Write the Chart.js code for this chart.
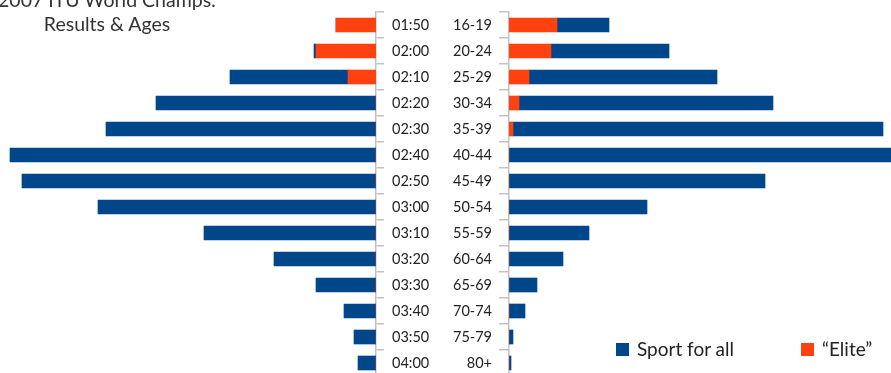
<!DOCTYPE html>
<html>
<head>
<meta charset="utf-8">
<script src="https://cdn.jsdelivr.net/npm/chart.js@4"></script>
<style>
  html, body { margin: 0; padding: 0; overflow: hidden; background: #fff; }
  body { width: 891px; height: 373px; position: relative; font-family: Lato, sans-serif; }
  #kiri { position: absolute; left: 0; top: 0; }
  #kanan { position: absolute; left: 440px; top: 0; }
  .judul { position: absolute; left: -20px; top: -12px; width: 254px; text-align: center; white-space: nowrap;
           font-size: 19.5px; line-height: 23.5px; color: #333; }
  .legenda { position: absolute; top: 337px; font-size: 19px; line-height: 24px; color: #222; white-space: nowrap; }
  .legenda span.kotak { position: absolute; left: -21px; top: 6px; width: 13px; height: 13px; }
</style>
</head>
<body>
<canvas id="kiri" width="440" height="376"></canvas>
<canvas id="kanan" width="451" height="376"></canvas>
<div class="judul">2007 ITU World Champs:<br>Results &amp; Ages</div>
<div class="legenda" style="left:637px"><span class="kotak" style="background:#00468a"></span>Sport for all</div>
<div class="legenda" style="left:822px"><span class="kotak" style="background:#ff410f"></span>“Elite”</div>
<script>
// waktu finish (kiri)
const waktu = ["01:50","02:00","02:10","02:20","02:30","02:40","02:50","03:00","03:10","03:20","03:30","03:40","03:50","04:00"];
const waktuElite = [20, 30, 14, 0, 0, 0, 0, 0, 0, 0, 0, 0, 0, 0];
const waktuUmum  = [0, 1, 59, 110, 135, 183, 177, 139, 86, 51, 30, 16, 11, 9];

// kelompok umur (kanan)
const umur = ["16-19","20-24","25-29","30-34","35-39","40-44","45-49","50-54","55-59","60-64","65-69","70-74","75-79","80+"];
const umurElite = [24, 21, 10, 5, 2, 0, 0, 0, 0, 0, 0, 0, 0, 0];
const umurUmum  = [26, 59, 94, 127, 185, 191, 128, 69, 40, 27, 14, 8, 2, 1];

const BIRU = "#00468a";
const ORANYE = "#ff410f";
const ABU = "#c2c2c2";

function buatChart(id, labels, elite, umum, sisi) {
  const kiri = sisi === "kiri";
  const ctx = document.getElementById(id).getContext("2d");
  return new Chart(ctx, {
    type: "bar",
    data: {
      labels: labels,
      datasets: [
        { label: "“Elite”", data: elite, backgroundColor: ORANYE, barThickness: 14 },
        { label: "Sport for all", data: umum, backgroundColor: BIRU, barThickness: 14 }
      ]
    },
    options: {
      indexAxis: "y",
      responsive: false,
      animation: false,
      layout: { padding: { top: 12, bottom: 0, left: 0, right: 0 } },
      plugins: { legend: { display: false }, tooltip: { enabled: false } },
      scales: {
        x: {
          stacked: true,
          display: false,
          min: 0,
          max: kiri ? 188 : 191,
          reverse: kiri
        },
        y: {
          stacked: true,
          position: kiri ? "right" : "left",
          afterFit: s => {
            s.width = kiri ? 64 : 69;
            s.paddingTop = 0;
            s.paddingBottom = 0;
          },
          border: { display: true, color: ABU, width: 1.5 },
          grid: { drawOnChartArea: false, drawTicks: true, tickLength: kiri ? 8 : 10, color: ABU, lineWidth: 1.5 },
          ticks: { padding: kiri ? 8 : 7, color: "#222", font: { family: "Lato", size: 14.5 } }
        }
      }
    }
  });
}

buatChart("kiri", waktu, waktuElite, waktuUmum, "kiri");
buatChart("kanan", umur, umurElite, umurUmum, "kanan");
</script>
</body>
</html>
